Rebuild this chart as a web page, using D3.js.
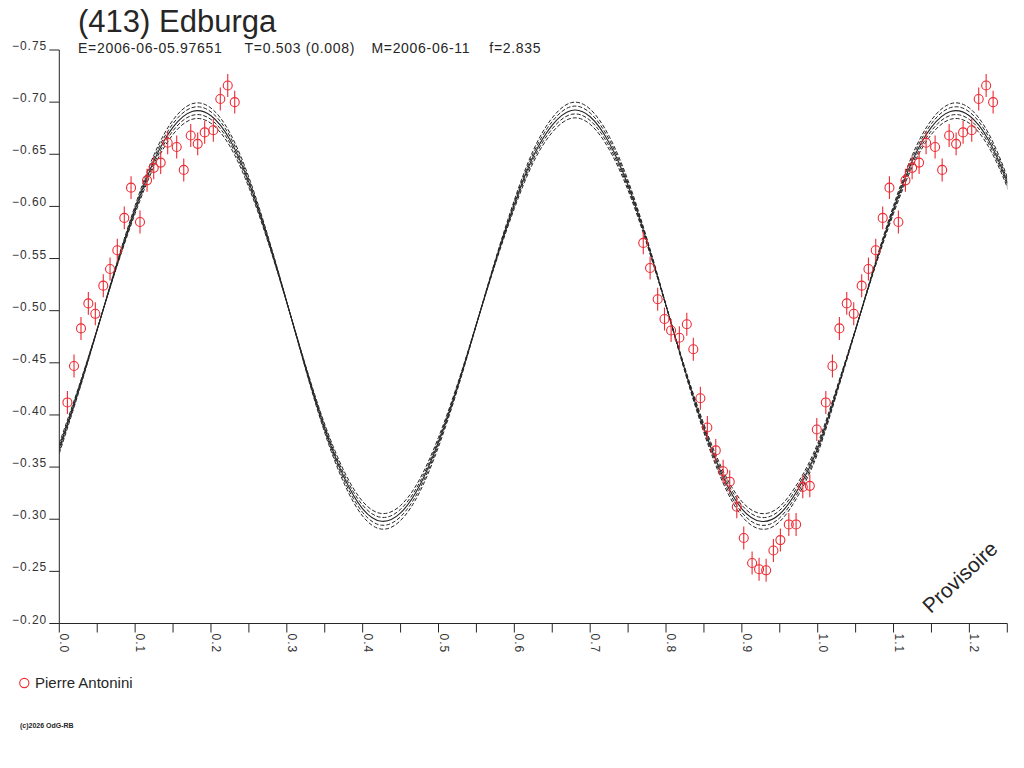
<!DOCTYPE html>
<html>
<head>
<meta charset="utf-8">
<script src="https://cdn.jsdelivr.net/npm/d3@7"></script>
<style>
  body { margin: 0; background: #fff; }
  svg { display: block; font-family: "Liberation Sans", Arial, sans-serif; }
</style>
</head>
<body>
<div id="chart"></div>
<script>
// observations (phase, reduced magnitude, error)
const obsPhase = [0.0107, 0.0194, 0.0286, 0.0383, 0.0475, 0.0580, 0.0669, 0.0765, 0.0857, 0.0946,
  0.1064, 0.1157, 0.1245, 0.1337, 0.1429, 0.1548, 0.1641, 0.1733, 0.1825, 0.1917,
  0.2031, 0.2123, 0.2221, 0.2313,
  0.7700, 0.7790, 0.7890, 0.7980, 0.8067, 0.8176, 0.8274, 0.8360, 0.8453, 0.8545,
  0.8656, 0.8753, 0.8840, 0.8933, 0.9025, 0.9135, 0.9227, 0.9320, 0.9416, 0.9508,
  0.9619, 0.9715, 0.9803, 0.9896, 0.9988];
const obsMag = [-0.412, -0.447, -0.483, -0.507, -0.497, -0.524, -0.540, -0.558, -0.589, -0.618,
  -0.585, -0.625, -0.637, -0.642, -0.661, -0.657, -0.635, -0.668, -0.660, -0.671,
  -0.673, -0.703, -0.716, -0.700,
  -0.565, -0.541, -0.511, -0.492, -0.481, -0.474, -0.487, -0.463, -0.416, -0.388,
  -0.366, -0.346, -0.336, -0.312, -0.282, -0.258, -0.252, -0.251, -0.270, -0.280,
  -0.295, -0.295, -0.331, -0.332, -0.386];
const obsErr = [0.011, 0.011, 0.011, 0.011, 0.011, 0.011, 0.011, 0.011, 0.011, 0.011,
  0.011, 0.011, 0.011, 0.011, 0.011, 0.011, 0.011, 0.011, 0.011, 0.011,
  0.011, 0.011, 0.011, 0.011,
  0.011, 0.011, 0.011, 0.011, 0.011, 0.011, 0.011, 0.011, 0.011, 0.011,
  0.011, 0.011, 0.011, 0.011, 0.011, 0.011, 0.011, 0.011, 0.011, 0.011,
  0.011, 0.011, 0.011, 0.011, 0.011];

// fitted curve, sampled every 0.025 in phase
const fitMag = [-0.368, -0.423, -0.482, -0.542, -0.597, -0.644, -0.676, -0.691, -0.687, -0.664,
  -0.623, -0.569, -0.508, -0.445, -0.387, -0.341, -0.310, -0.298, -0.306, -0.332,
  -0.374, -0.427, -0.487, -0.547, -0.602, -0.648, -0.678, -0.692, -0.686, -0.661,
  -0.620, -0.566, -0.505, -0.443, -0.387, -0.341, -0.310, -0.298, -0.305, -0.330,
  -0.368];
const fitStep = 0.025;
// amplitude of the dashed envelope curves relative to the fit
const bandScale = [0.962, 0.981, 1.019, 1.038];

const xTicks = [0, 0.1, 0.2, 0.3, 0.4, 0.5, 0.6, 0.7, 0.8, 0.9, 1.0, 1.1, 1.2];
const xMinor = [0.05, 0.15, 0.25, 0.35, 0.45, 0.55, 0.65, 0.75, 0.85, 0.95, 1.05, 1.15, 1.25];
const yTicks = [-0.75, -0.70, -0.65, -0.60, -0.55, -0.50, -0.45, -0.40, -0.35, -0.30, -0.25, -0.20];

const title = "(413) Edburga";
const subParts = ["E=2006-06-05.97651", "T=0.503 (0.008)", "M=2006-06-11", "f=2.835"];
const observer = "Pierre Antonini";

const width = 1024, height = 768;
const ink = "#262626";
const red = "#ee2a33";

const x = d3.scaleLinear().domain([0, 1.25]).range([59.3, 1007.3]);
const y = d3.scaleLinear().domain([-0.75, -0.20]).range([50, 623.5]);

const svg = d3.select("#chart").append("svg")
  .attr("width", width)
  .attr("height", height);

svg.append("rect").attr("width", width).attr("height", height).attr("fill", "#fff");

svg.append("defs").append("clipPath").attr("id", "plot")
  .append("rect")
  .attr("x", x(0)).attr("y", 0)
  .attr("width", x(1.25) - x(0)).attr("height", y(-0.20));

// titles
svg.append("text")
  .attr("x", 78).attr("y", 32)
  .attr("font-size", 31)
  .attr("fill", ink)
  .text(title);

const subX = [78, 244.6, 371.4, 489.3];
svg.append("g").selectAll("text")
  .data(subParts)
  .join("text")
  .attr("x", (d, i) => subX[i]).attr("y", 53)
  .attr("font-size", 14)
  .attr("letter-spacing", 0.7)
  .attr("fill", ink)
  .text(d => d);

// y axis
const yAxis = svg.append("g").attr("stroke", ink).attr("stroke-width", 1);
yAxis.append("line")
  .attr("x1", x(0)).attr("x2", x(0))
  .attr("y1", y(-0.75)).attr("y2", y(-0.20));
yAxis.selectAll("line.tick")
  .data(yTicks)
  .join("line")
  .attr("class", "tick")
  .attr("x1", x(0) - 10).attr("x2", x(0))
  .attr("y1", d => y(d)).attr("y2", d => y(d));
svg.append("g").selectAll("text")
  .data(yTicks)
  .join("text")
  .attr("x", x(0) - 12).attr("y", d => y(d))
  .attr("text-anchor", "end")
  .attr("font-size", 12)
  .attr("letter-spacing", 1)
  .attr("fill", "#333")
  .text(d => d3.format(".2f")(d));

// x axis
const xAxis = svg.append("g").attr("stroke", ink).attr("stroke-width", 1);
xAxis.append("line")
  .attr("x1", x(0)).attr("x2", x(1.25))
  .attr("y1", y(-0.20)).attr("y2", y(-0.20));
xAxis.selectAll("line.tick")
  .data(xTicks.concat(xMinor))
  .join("line")
  .attr("class", "tick")
  .attr("x1", d => x(d)).attr("x2", d => x(d))
  .attr("y1", y(-0.20)).attr("y2", y(-0.20) + 9);
svg.append("g").selectAll("text")
  .data(xTicks)
  .join("text")
  .attr("transform", d => `translate(${x(d) + 1},${y(-0.20) + 10}) rotate(90)`)
  .attr("font-size", 12)
  .attr("letter-spacing", 1)
  .attr("fill", "#333")
  .text(d => d3.format(".1f")(d));

// fit curve over 0..1.25 (periodic in phase)
const fitPts = fitMag.map((m, i) => [i * fitStep, m]);
const fitExt = fitPts.concat(fitPts.slice(1, 13).map(([p, m]) => [p + 1, m]));
const [lo, hi] = d3.extent(fitMag);
const mid = (lo + hi) / 2;

const line = d3.line()
  .x(d => x(d[0]))
  .y(d => y(d[1]))
  .curve(d3.curveNatural);

const curves = svg.append("g").attr("clip-path", "url(#plot)")
  .attr("fill", "none").attr("stroke", ink);

curves.selectAll("path.band")
  .data(bandScale)
  .join("path")
  .attr("class", "band")
  .attr("stroke-width", 1)
  .attr("stroke-dasharray", "4,2")
  .attr("d", k => line(fitExt.map(([p, m]) => [p, mid + k * (m - mid)])));

curves.append("path")
  .attr("stroke-width", 1.1)
  .attr("d", line(fitExt));

// observations, repeated beyond phase 1
const obs = obsPhase.map((p, i) => ({ p, m: obsMag[i], e: obsErr[i] }));
const obsExt = obs.concat(obs.filter(d => d.p + 1 <= 1.25).map(d => ({ ...d, p: d.p + 1 })));

const pts = svg.append("g").attr("fill", "none").attr("stroke", red).attr("stroke-width", 1.1);
pts.selectAll("line")
  .data(obsExt)
  .join("line")
  .attr("x1", d => x(d.p)).attr("x2", d => x(d.p))
  .attr("y1", d => y(d.m - d.e)).attr("y2", d => y(d.m + d.e));
pts.selectAll("circle")
  .data(obsExt)
  .join("circle")
  .attr("cx", d => x(d.p)).attr("cy", d => y(d.m))
  .attr("r", 4.5);

// legend
svg.append("circle")
  .attr("cx", 24.3).attr("cy", 683)
  .attr("r", 4.6)
  .attr("fill", "none").attr("stroke", red).attr("stroke-width", 1.1);
svg.append("text")
  .attr("x", 35).attr("y", 688)
  .attr("font-size", 15)
  .attr("fill", ink)
  .text(observer);

// watermark and credit
svg.append("text")
  .attr("transform", "translate(960,577) rotate(-43)")
  .attr("text-anchor", "middle")
  .attr("dy", "0.35em")
  .attr("font-size", 21)
  .attr("fill", ink)
  .text("Provisoire");

svg.append("text")
  .attr("x", 20).attr("y", 728)
  .attr("font-size", 7)
  .attr("font-weight", "bold")
  .attr("fill", ink)
  .text("(c)2026 OdG-RB");
</script>
</body>
</html>
